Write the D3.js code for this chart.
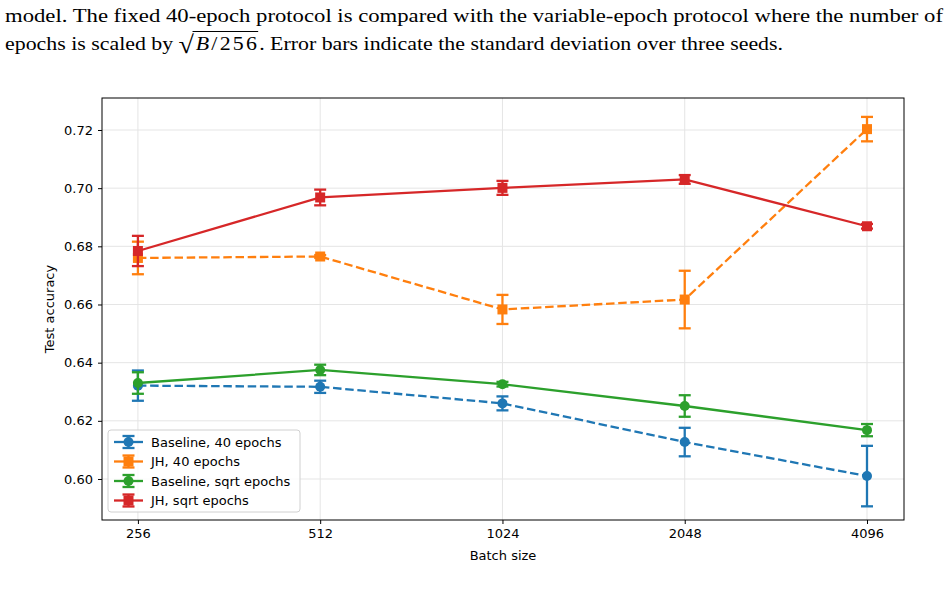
<!DOCTYPE html>
<html>
<head>
<meta charset="utf-8">
<script src="https://cdn.jsdelivr.net/npm/d3@7"></script>
<style>
  body { margin: 0; background: #fff; }
  svg { display: block; }
</style>
</head>
<body>
<script>
// batch sizes and accuracy values
const batchSizes = [256, 512, 1024, 2048, 4096];
const baseline40 = [0.6321, 0.6317, 0.6260, 0.6127, 0.6010];
const baseline40Err = [0.0052, 0.0021, 0.0024, 0.0049, 0.0104];
const jh40 = [0.6760, 0.6765, 0.6583, 0.6617, 0.7203];
const jh40Err = [0.0056, 0.0005, 0.0050, 0.0099, 0.0042];
const baselineSqrt = [0.6330, 0.6375, 0.6326, 0.6251, 0.6168];
const baselineSqrtErr = [0.0037, 0.0018, 0.0008, 0.0037, 0.0021];
const jhSqrt = [0.6784, 0.6968, 0.7001, 0.7030, 0.6869];
const jhSqrtErr = [0.0052, 0.0027, 0.0024, 0.0015, 0.0008];
const yTicks = [0.60, 0.62, 0.64, 0.66, 0.68, 0.70, 0.72];

const series = [
    { name: 'Baseline, 40 epochs', values: baseline40, err: baseline40Err, color: '#1f77b4', dashed: true, marker: 'circle' },
    { name: 'JH, 40 epochs', values: jh40, err: jh40Err, color: '#ff7f0e', dashed: true, marker: 'square' },
    { name: 'Baseline, sqrt epochs', values: baselineSqrt, err: baselineSqrtErr, color: '#2ca02c', dashed: false, marker: 'circle' },
    { name: 'JH, sqrt epochs', values: jhSqrt, err: jhSqrtErr, color: '#d62728', dashed: false, marker: 'square' },
];

const W = 950, H = 600;
const margin = { top: 98, right: 46, bottom: 80, left: 102 };
const width = W - margin.left - margin.right;
const height = H - margin.top - margin.bottom;

const svg = d3.select('body').append('svg')
    .attr('width', W)
    .attr('height', H);

// caption above the figure (the page render is a bit stretched sideways)
const caption = svg.append('g')
    .attr('font-family', '"Liberation Serif", "Times New Roman", serif')
    .attr('font-size', 19.5)
    .attr('fill', '#000');

caption.append('text')
    .attr('x', 5).attr('y', 22)
    .attr('textLength', 938)
    .attr('lengthAdjust', 'spacingAndGlyphs')
    .text('model.  The fixed 40-epoch protocol is compared with the variable-epoch protocol where the number of');

const line2 = caption.append('text').attr('x', 5).attr('y', 49.5)
    .attr('textLength', 778)
    .attr('lengthAdjust', 'spacingAndGlyphs');
line2.append('tspan').text('epochs is scaled by ');
line2.append('tspan').attr('font-size', 25).attr('dy', 3).text('\u221A');
line2.append('tspan').attr('font-style', 'italic').attr('dy', -3).attr('dx', 1.5).attr('letter-spacing', 2).text('B');
line2.append('tspan').attr('letter-spacing', 2).text('/256');
line2.append('tspan').text('. Error bars indicate the standard deviation over three seeds.');

// overline of the square root
const node = line2.node();
const txt = node.textContent;
const iR = txt.indexOf('\u221A');
const i6 = txt.indexOf('256') + 2;
const x0 = node.getEndPositionOfChar(iR).x - 1.5;
const x1 = node.getEndPositionOfChar(i6).x - 1;
caption.append('line')
    .attr('x1', x0).attr('x2', x1)
    .attr('y1', 31.5).attr('y2', 31.5)
    .attr('stroke', '#000').attr('stroke-width', 1.1);

const main = svg.append('g')
    .attr('transform', `translate(${margin.left}, ${margin.top})`);

const x = d3.scaleLog().base(2)
    .domain([256 * Math.pow(2, -0.197), 4096 * Math.pow(2, 0.203)])
    .range([0, width]);

const y = d3.scaleLinear()
    .domain([0.5859, 0.7310])
    .range([height, 0]);

// grid
main.append('g')
    .selectAll('line')
    .data(yTicks)
    .join('line')
    .attr('x1', 0).attr('x2', width)
    .attr('y1', d => y(d)).attr('y2', d => y(d))
    .attr('stroke', '#e5e5e5').attr('stroke-width', 1);
main.append('g')
    .selectAll('line')
    .data(batchSizes)
    .join('line')
    .attr('y1', 0).attr('y2', height)
    .attr('x1', d => x(d)).attr('x2', d => x(d))
    .attr('stroke', '#e5e5e5').attr('stroke-width', 1);

// axes
const xAxis = main.append('g')
    .attr('transform', `translate(0, ${height})`)
    .call(d3.axisBottom(x).tickValues(batchSizes).tickFormat(d3.format('d')).tickSize(4).tickPadding(5));
const yAxis = main.append('g')
    .call(d3.axisLeft(y).tickValues(yTicks).tickFormat(d3.format('.2f')).tickSize(4).tickPadding(5));

[xAxis, yAxis].forEach(a => {
    a.select('.domain').remove();
    a.selectAll('text')
        .attr('font-family', '"DejaVu Sans", sans-serif')
        .attr('font-size', 13)
        .attr('fill', '#000');
    a.selectAll('line').attr('stroke', '#000').attr('stroke-width', 1);
});

main.append('rect')
    .attr('width', width).attr('height', height)
    .attr('fill', 'none')
    .attr('stroke', '#000').attr('stroke-width', 1);

main.append('text')
    .attr('x', width / 2).attr('y', height + 40)
    .attr('text-anchor', 'middle')
    .attr('font-family', '"DejaVu Sans", sans-serif')
    .attr('font-size', 13)
    .text('Batch size');

main.append('text')
    .attr('transform', `translate(${-48}, ${height / 2}) rotate(-90)`)
    .attr('text-anchor', 'middle')
    .attr('font-family', '"DejaVu Sans", sans-serif')
    .attr('font-size', 13)
    .text('Test accuracy');

const line = d3.line()
    .x((d, i) => x(batchSizes[i]))
    .y(d => y(d));

const LW = 2.3;
const CAP = 6;

function drawMarker(g, kind, color, cx, cy) {
    if (kind === 'circle') {
        g.append('circle').attr('cx', cx).attr('cy', cy).attr('r', 5).attr('fill', color);
    } else {
        g.append('rect').attr('x', cx - 5).attr('y', cy - 5)
            .attr('width', 10).attr('height', 10).attr('fill', color);
    }
}

series.forEach(s => {
    const g = main.append('g');
    // error bars
    s.values.forEach((v, i) => {
        const cx = x(batchSizes[i]);
        const lo = y(v - s.err[i]), hi = y(v + s.err[i]);
        g.append('line').attr('x1', cx).attr('x2', cx).attr('y1', lo).attr('y2', hi)
            .attr('stroke', s.color).attr('stroke-width', LW);
        [lo, hi].forEach(yy => {
            g.append('line').attr('x1', cx - CAP).attr('x2', cx + CAP).attr('y1', yy).attr('y2', yy)
                .attr('stroke', s.color).attr('stroke-width', LW);
        });
    });
    g.append('path')
        .datum(s.values)
        .attr('fill', 'none')
        .attr('stroke', s.color)
        .attr('stroke-width', LW)
        .attr('stroke-dasharray', s.dashed ? '8.5,3.7' : null)
        .attr('d', line);
    s.values.forEach((v, i) => drawMarker(g, s.marker, s.color, x(batchSizes[i]), y(v)));
});

// legend
const legend = main.append('g').attr('transform', 'translate(6, 332)');
legend.append('rect')
    .attr('width', 192).attr('height', 82)
    .attr('rx', 3)
    .attr('fill', 'rgba(255,255,255,0.8)')
    .attr('stroke', '#d0d0d0').attr('stroke-width', 1);

series.forEach((s, i) => {
    const gy = 12 + i * 19.5;
    const e = legend.append('g');
    e.append('line').attr('x1', 6).attr('x2', 35).attr('y1', gy).attr('y2', gy)
        .attr('stroke', s.color).attr('stroke-width', LW);
    e.append('line').attr('x1', 20.5).attr('x2', 20.5).attr('y1', gy - 6).attr('y2', gy + 6)
        .attr('stroke', s.color).attr('stroke-width', LW);
    [gy - 6, gy + 6].forEach(yy => {
        e.append('line').attr('x1', 14.5).attr('x2', 26.5).attr('y1', yy).attr('y2', yy)
            .attr('stroke', s.color).attr('stroke-width', LW);
    });
    drawMarker(e, s.marker, s.color, 20.5, gy);
    e.append('text')
        .attr('x', 43).attr('y', gy + 4.5)
        .attr('font-family', '"DejaVu Sans", sans-serif')
        .attr('font-size', 13)
        .text(s.name);
});
</script>
</body>
</html>
